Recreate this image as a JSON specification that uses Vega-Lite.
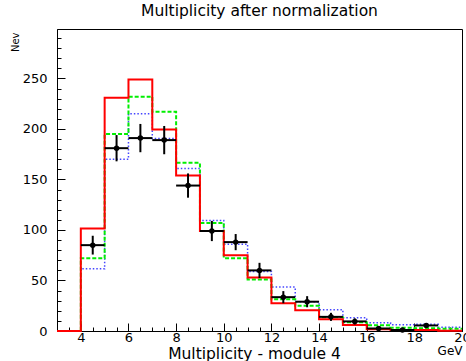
{
  "$schema": "https://vega.github.io/schema/vega-lite/v6.json",
  "width": 405,
  "height": 302,
  "autosize": {"type": "none"},
  "padding": {"left": 57, "top": 29, "right": 4, "bottom": 30},
  "background": "white",
  "title": {
    "text": "Multiplicity after normalization",
    "font": "DejaVu Sans",
    "fontSize": 15.5,
    "fontWeight": "normal",
    "color": "black",
    "anchor": "middle",
    "offset": 10
  },
  "config": {
    "font": "DejaVu Sans",
    "view": {"stroke": "black", "strokeWidth": 1},
    "axis": {"grid": false, "domainColor": "black", "tickColor": "black", "labelColor": "black", "titleColor": "black"}
  },
  "datasets": {
    "red": [
      {"edge": 3, "n": 0}, {"edge": 4, "n": 101.5}, {"edge": 5, "n": 231}, {"edge": 6, "n": 249},
      {"edge": 7, "n": 199.5}, {"edge": 8, "n": 154}, {"edge": 9, "n": 99}, {"edge": 10, "n": 75},
      {"edge": 11, "n": 53}, {"edge": 12, "n": 27.5}, {"edge": 13, "n": 20.5}, {"edge": 14, "n": 11.6},
      {"edge": 15, "n": 6}, {"edge": 16, "n": 1.7}, {"edge": 17, "n": 1}, {"edge": 18, "n": 1},
      {"edge": 19, "n": 0.3}, {"edge": 20, "n": 0.3}
    ],
    "green": [
      {"edge": 3, "n": 0}, {"edge": 4, "n": 72}, {"edge": 5, "n": 195}, {"edge": 6, "n": 232},
      {"edge": 7, "n": 217}, {"edge": 8, "n": 166.5}, {"edge": 9, "n": 107}, {"edge": 10, "n": 72},
      {"edge": 11, "n": 51}, {"edge": 12, "n": 31.5}, {"edge": 13, "n": 25}, {"edge": 14, "n": 13.5},
      {"edge": 15, "n": 8.6}, {"edge": 16, "n": 5.6}, {"edge": 17, "n": 3.3}, {"edge": 18, "n": 2.7},
      {"edge": 19, "n": 2.2}, {"edge": 20, "n": 2.2}
    ],
    "blue": [
      {"edge": 3, "n": 0}, {"edge": 4, "n": 61.6}, {"edge": 5, "n": 170}, {"edge": 6, "n": 215},
      {"edge": 7, "n": 190.6}, {"edge": 8, "n": 161}, {"edge": 9, "n": 109.5}, {"edge": 10, "n": 86},
      {"edge": 11, "n": 59}, {"edge": 12, "n": 43.5}, {"edge": 13, "n": 29}, {"edge": 14, "n": 21},
      {"edge": 15, "n": 13}, {"edge": 16, "n": 8.2}, {"edge": 17, "n": 6.3}, {"edge": 18, "n": 6.6},
      {"edge": 19, "n": 3.7}, {"edge": 20, "n": 3.7}
    ],
    "meas": [
      {"lo": 4, "hi": 5, "c": 4.5, "n": 85, "nlo": 75.7, "nhi": 94.3},
      {"lo": 5, "hi": 6, "c": 5.5, "n": 181, "nlo": 168, "nhi": 194},
      {"lo": 6, "hi": 7, "c": 6.5, "n": 191, "nlo": 177, "nhi": 205},
      {"lo": 7, "hi": 8, "c": 7.5, "n": 189, "nlo": 175, "nhi": 203},
      {"lo": 8, "hi": 9, "c": 8.5, "n": 144, "nlo": 132, "nhi": 156},
      {"lo": 9, "hi": 10, "c": 9.5, "n": 99, "nlo": 89, "nhi": 109},
      {"lo": 10, "hi": 11, "c": 10.5, "n": 88, "nlo": 80, "nhi": 96},
      {"lo": 11, "hi": 12, "c": 11.5, "n": 60, "nlo": 52.5, "nhi": 67.5},
      {"lo": 12, "hi": 13, "c": 12.5, "n": 33.5, "nlo": 27.5, "nhi": 39.5},
      {"lo": 13, "hi": 14, "c": 13.5, "n": 29, "nlo": 23.5, "nhi": 34.5},
      {"lo": 14, "hi": 15, "c": 14.5, "n": 14, "nlo": 10, "nhi": 18},
      {"lo": 15, "hi": 16, "c": 15.5, "n": 9.5, "nlo": 6.5, "nhi": 12.5},
      {"lo": 16, "hi": 17, "c": 16.5, "n": 2.5, "nlo": 1, "nhi": 4},
      {"lo": 17, "hi": 18, "c": 17.5, "n": 1, "nlo": 0, "nhi": 2},
      {"lo": 18, "hi": 19, "c": 18.5, "n": 5.5, "nlo": 3.2, "nhi": 7.8}
    ]
  },
  "resolve": {"axis": {"x": "independent", "y": "independent"}},
  "layer": [
    {
      "data": {"name": "blue"},
      "mark": {"type": "line", "interpolate": "step-after", "color": "#4444ff", "strokeWidth": 1.5, "strokeDash": [1.5, 2]},
      "encoding": {
        "x": {"field": "edge", "type": "quantitative",
          "scale": {"domain": [3, 20], "nice": false, "zero": false},
          "axis": {"orient": "bottom", "values": [3,3.5,4,4.5,5,5.5,6,6.5,7,7.5,8,8.5,9,9.5,10,10.5,11,11.5,12,12.5,13,13.5,14,14.5,15,15.5,16,16.5,17,17.5,18,18.5,19,19.5,20],
            "labels": false, "domain": false, "tickSize": -4, "title": "GeV",
            "titleFont": "DejaVu Sans", "titleFontSize": 12, "titleFontWeight": "normal",
            "titleAnchor": "end", "titleAlign": "right", "titleBaseline": "alphabetic", "titleX": 405, "titleY": 23}},
        "y": {"field": "n", "type": "quantitative",
          "scale": {"domain": [0, 299], "nice": false},
          "axis": {"orient": "left", "values": [0,10,20,30,40,50,60,70,80,90,100,110,120,130,140,150,160,170,180,190,200,210,220,230,240,250,260,270,280,290],
            "labels": false, "domain": false, "tickSize": -4, "title": "Nev",
            "titleFont": "DejaVu Sans", "titleFontSize": 10, "titleFontWeight": "normal",
            "titleAngle": -90, "titleAnchor": "end", "titleAlign": "right", "titleBaseline": "alphabetic", "titleX": -39, "titleY": 3}}
      }
    },
    {
      "data": {"name": "green"},
      "mark": {"type": "line", "interpolate": "step-after", "color": "#00ee00", "strokeWidth": 2, "strokeDash": [4, 2]},
      "encoding": {
        "x": {"field": "edge", "type": "quantitative", "axis": null},
        "y": {"field": "n", "type": "quantitative", "axis": null}
      }
    },
    {
      "data": {"name": "red"},
      "mark": {"type": "line", "interpolate": "step-after", "color": "#ff0000", "strokeWidth": 2},
      "encoding": {
        "x": {"field": "edge", "type": "quantitative",
          "axis": {"orient": "bottom", "values": [4,6,8,10,12,14,16,18,20], "tickSize": -8, "labelPadding": 8,
            "labelFont": "DejaVu Sans", "labelFontSize": 13, "labelFlush": false, "domainColor": "black",
            "title": "Multiplicity - module 4", "titleFont": "DejaVu Sans", "titleFontSize": 15.5, "titleFontWeight": "normal",
            "titleAnchor": "middle", "titleBaseline": "alphabetic", "titleX": 197, "titleY": 27}},
        "y": {"field": "n", "type": "quantitative",
          "axis": {"orient": "left", "values": [0,50,100,150,200,250], "tickSize": -8, "labelPadding": 18,
            "labelFont": "DejaVu Sans", "labelFontSize": 13, "labelFlush": false, "title": null}}
      }
    },
    {
      "data": {"name": "meas"},
      "mark": {"type": "rule", "color": "black", "strokeWidth": 2},
      "encoding": {
        "x": {"field": "lo", "type": "quantitative", "axis": null},
        "x2": {"field": "hi"},
        "y": {"field": "n", "type": "quantitative", "axis": null}
      }
    },
    {
      "data": {"name": "meas"},
      "mark": {"type": "rule", "color": "black", "strokeWidth": 2},
      "encoding": {
        "x": {"field": "c", "type": "quantitative", "axis": null},
        "y": {"field": "nlo", "type": "quantitative", "axis": null},
        "y2": {"field": "nhi"}
      }
    },
    {
      "data": {"name": "meas"},
      "mark": {"type": "point", "shape": "circle", "filled": true, "color": "black", "opacity": 1, "size": 30},
      "encoding": {
        "x": {"field": "c", "type": "quantitative", "axis": null},
        "y": {"field": "n", "type": "quantitative", "axis": null}
      }
    }
  ]
}
